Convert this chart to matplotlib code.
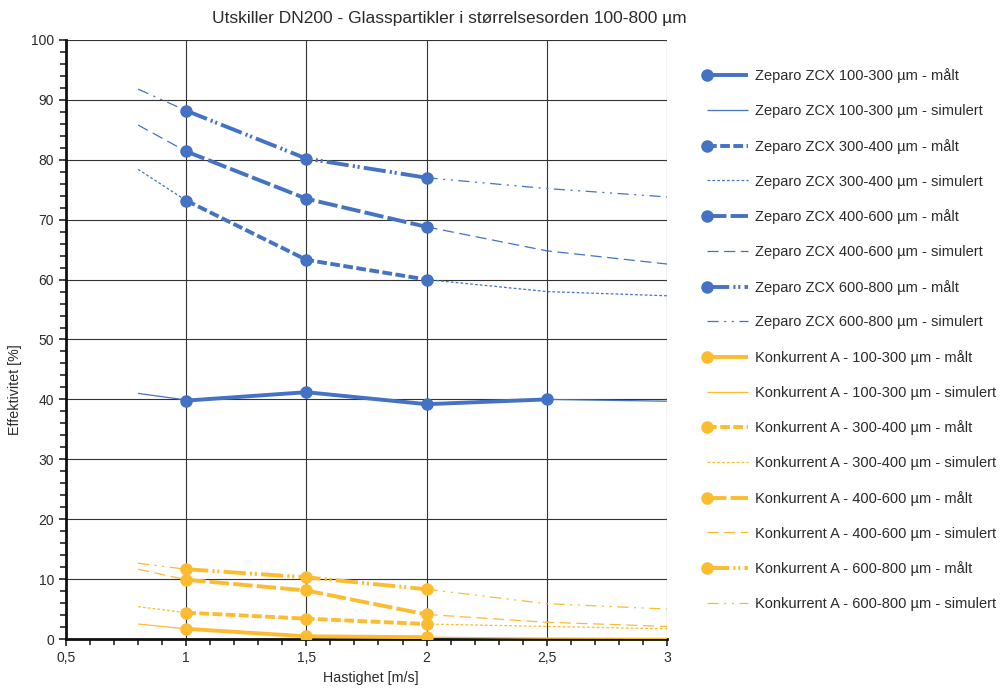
import matplotlib
matplotlib.use("Agg")
import matplotlib.pyplot as plt
import numpy as np
from matplotlib.legend_handler import HandlerLine2D
from matplotlib.ticker import MultipleLocator, FuncFormatter

plt.rcParams['font.family'] = ['Liberation Sans', 'DejaVu Sans']
plt.rcParams['lines.scale_dashes'] = False
TEKST = '#2b2b2b'

# Data (les av fra figuren)
x_maalt = [1, 1.5, 2]
x_maalt_100 = [1, 1.5, 2, 2.5]
x_sim = [0.8, 1, 1.5, 2, 2.5, 3]

zcx_100_maalt = [39.8, 41.2, 39.2, 40.0]
zcx_100_sim = [41.0, 39.9, 41.1, 39.3, 40.0, 39.7]
zcx_300_maalt = [73.2, 63.3, 60.0]
zcx_300_sim = [78.4, 73.2, 63.3, 60.0, 58.0, 57.3]
zcx_400_maalt = [81.4, 73.5, 68.8]
zcx_400_sim = [85.8, 81.4, 73.5, 68.8, 64.8, 62.6]
zcx_600_maalt = [88.2, 80.2, 77.0]
zcx_600_sim = [91.8, 88.2, 80.2, 77.0, 75.2, 73.8]

konk_100_maalt = [1.7, 0.45, 0.3]
konk_100_sim = [2.5, 1.7, 0.45, 0.3, 0.15, 0.1]
konk_300_maalt = [4.4, 3.4, 2.5]
konk_300_sim = [5.4, 4.4, 3.4, 2.5, 2.1, 1.7]
konk_400_maalt = [9.9, 8.1, 4.1]
konk_400_sim = [11.65, 9.9, 8.1, 4.1, 2.8, 2.1]
konk_600_maalt = [11.65, 10.3, 8.3]
konk_600_sim = [12.65, 11.65, 10.3, 8.3, 5.9, 5.0]

BLA = '#4472C4'
GUL = '#FDBB30'

# linjestiler (i punkter)
maalt_stil = {
    '100-300': (0, ()),
    '300-400': (0, (7, 2.5)),
    '400-600': (0, (14, 3)),
    '600-800': (0, (16, 3, 1.5, 2, 1.5, 3)),
}
sim_stil = {
    '100-300': (0, ()),
    '300-400': (0, (2, 1.5)),
    '400-600': (0, (8, 4)),
    '600-800': (0, (8, 4, 1.5, 4, 1.5, 4)),
}


class MarkorVenstre(HandlerLine2D):
    # markor paa venstre ende av linjen i legenden
    def create_artists(self, *args, **kwargs):
        linjer = super().create_artists(*args, **kwargs)
        linjer[0].set_markevery([0])
        return linjer


fig = plt.figure(figsize=(10.01, 6.88), dpi=100)
ax = fig.add_axes([0.0659, 0.0712, 0.6004, 0.8707])

serier = [
    ('Zeparo ZCX 100-300 µm', BLA, '100-300', x_maalt_100, zcx_100_maalt, zcx_100_sim),
    ('Zeparo ZCX 300-400 µm', BLA, '300-400', x_maalt, zcx_300_maalt, zcx_300_sim),
    ('Zeparo ZCX 400-600 µm', BLA, '400-600', x_maalt, zcx_400_maalt, zcx_400_sim),
    ('Zeparo ZCX 600-800 µm', BLA, '600-800', x_maalt, zcx_600_maalt, zcx_600_sim),
    ('Konkurrent A - 100-300 µm', GUL, '100-300', x_maalt, konk_100_maalt, konk_100_sim),
    ('Konkurrent A - 300-400 µm', GUL, '300-400', x_maalt, konk_300_maalt, konk_300_sim),
    ('Konkurrent A - 400-600 µm', GUL, '400-600', x_maalt, konk_400_maalt, konk_400_sim),
    ('Konkurrent A - 600-800 µm', GUL, '600-800', x_maalt, konk_600_maalt, konk_600_sim),
]

xs = np.array(x_sim)
handles = []
labels = []
maalt_linjer = []
for navn, farge, kl, xm, ym, ys in serier:
    ys = np.array(ys)
    # simulert kurve synes bare utenfor maalt omraade
    venstre = xs <= min(xm)
    hoyre = xs >= max(xm)
    s, = ax.plot(xs[venstre], ys[venstre], color=farge, lw=0.9,
                 linestyle=sim_stil[kl], zorder=3)
    ax.plot(xs[hoyre], ys[hoyre], color=farge, lw=0.9, linestyle=sim_stil[kl], zorder=3)
    m, = ax.plot(xm, ym, color=farge, lw=2.8, linestyle=maalt_stil[kl],
                 marker='o', markersize=8, zorder=4)
    handles += [m, s]
    labels += [navn + ' - målt', navn + ' - simulert']
    maalt_linjer.append(m)

ax.set_xlim(0.5, 3)
ax.set_ylim(0, 100)
ax.xaxis.set_major_locator(MultipleLocator(0.5))
ax.xaxis.set_minor_locator(MultipleLocator(0.1))
ax.yaxis.set_major_locator(MultipleLocator(10))
ax.yaxis.set_minor_locator(MultipleLocator(2))
ax.xaxis.set_major_formatter(FuncFormatter(lambda v, p: ('%g' % v).replace('.', ',')))
ax.grid(True, which='major', color='#333333', lw=0.8, zorder=1)
ax.tick_params(which='both', direction='out', labelsize=10, color='#222222', labelcolor=TEKST)
ax.tick_params(which='major', length=5, width=1.2)
ax.tick_params(which='minor', length=4, width=1.2)

for side in ['top', 'right']:
    ax.spines[side].set_visible(False)
for side in ['left', 'bottom']:
    ax.spines[side].set_linewidth(2)
    ax.spines[side].set_color('#111111')

fig.text(0.370, 1 - 678 / 688, 'Hastighet [m/s]', fontsize=10.3, color=TEKST,
         ha='center', va='center')
fig.text(15 / 1001, 1 - 390 / 688, 'Effektivitet [%]', fontsize=10.3, color=TEKST,
         ha='center', va='center', rotation=90)
fig.text(449 / 1001, 1 - 18 / 688,
         'Utskiller DN200 - Glasspartikler i størrelsesorden 100-800 µm',
         fontsize=12.5, color=TEKST, ha='center', va='center')

hmap = {m: MarkorVenstre(numpoints=1) for m in maalt_linjer}
leg = fig.legend(handles, labels, loc='upper left', bbox_to_anchor=(0.706, 0.9005),
                 frameon=False, fontsize=10.5, handlelength=2.81, handletextpad=0.48,
                 labelspacing=1.42, borderaxespad=0, borderpad=0, handler_map=hmap)
for t in leg.get_texts():
    t.set_color(TEKST)

fig.savefig('out.png', dpi=100)
